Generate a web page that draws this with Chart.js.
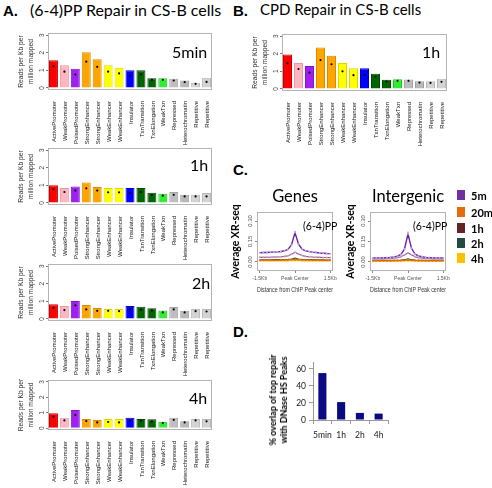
<!DOCTYPE html>
<html>
<head>
<meta charset="utf-8">
<script src="https://cdn.jsdelivr.net/npm/chart.js@4.4.1/dist/chart.umd.min.js"></script>
<style>
  html, body { margin: 0; padding: 0; background: #fff; }
  #page { position: relative; width: 492px; height: 488px; overflow: hidden; font-family: Lato, sans-serif; color: #000; }
  #page canvas { position: absolute; }
  .t { position: absolute; white-space: nowrap; line-height: 1; }
  .panel { font: bold 15px "Liberation Sans", Arial, sans-serif; }
  .head { font: 16px Lato, sans-serif; }
  .tag { font: 16px Lato, sans-serif; }
  .sq { position: absolute; width: 8px; height: 10px; }
  .leg { font: bold 11px Lato, sans-serif; }
</style>
</head>
<body>
<div id="page">
  <div class="t panel" style="left:3px;top:2px">A.</div>
  <div class="t head" style="left:30px;top:0px">(6-4)PP Repair in CS-B cells</div>
  <div class="t panel" style="left:233px;top:2px">B.</div>
  <div class="t head" style="left:260px;top:0px;font-size:15px">CPD Repair in CS-B cells</div>
  <div class="t panel" style="left:233px;top:161px">C.</div>
  <div class="t panel" style="left:233px;top:323px">D.</div>

  <canvas id="pp5min" width="222" height="120" style="left:0;top:28px"></canvas>
  <canvas id="pp1h" width="222" height="120" style="left:0;top:143px"></canvas>
  <canvas id="pp2h" width="222" height="120" style="left:0;top:259px"></canvas>
  <canvas id="pp4h" width="222" height="113" style="left:0;top:375px"></canvas>
  <canvas id="cpd1h" width="222" height="120" style="left:234px;top:29px"></canvas>
  <canvas id="genes" width="112" height="106" style="left:226px;top:194px"></canvas>
  <canvas id="intergenic" width="112" height="106" style="left:340px;top:194px"></canvas>
  <canvas id="dnase" width="160" height="100" style="left:240px;top:350px"></canvas>

  <div class="t tag" style="left:172px;top:42px">5min</div>
  <div class="t tag" style="left:190px;top:155px">1h</div>
  <div class="t tag" style="left:192px;top:273px">2h</div>
  <div class="t tag" style="left:189px;top:388px">4h</div>
  <div class="t tag" style="left:422px;top:42px">1h</div>

  <div class="t" style="left:255px;top:186px;width:80px;text-align:center;font:16.5px Lato">Genes</div>
  <div class="t" style="left:368px;top:186px;width:80px;text-align:center;font:16.5px Lato">Intergenic</div>
  <div class="t" style="left:303px;top:220px;font:10.5px Lato">(6-4)PP</div>
  <div class="t" style="left:413px;top:220px;font:10.5px Lato">(6-4)PP</div>

  <div id="legend"></div>

  <div class="t" style="left:278px;top:400px;transform:translate(-50%,-50%) rotate(-90deg);text-align:center;font:bold 9px Lato;line-height:11px">% overlap of top repair<br>with DNase HS Peaks</div>
</div>

<script>
// ======= Panel A / B: chromatin states =======
const stateLabels = ["ActivePromoter", "WeakPromoter", "PoisedPromoter", "StrongEnhancer", "StrongEnhancer",
                     "WeakEnhancer", "WeakEnhancer", "Insulator", "TxnTransition", "TxnElongation",
                     "WeakTxn", "Repressed", "Heterochromatin", "Repetitive", "Repetitive"];
const stateColors  = ["#ff0000", "#ffb6c1", "#a020f0", "#ffa500", "#ffa500", "#ffff00", "#ffff00", "#0000ff",
                      "#006400", "#006400", "#2ef02e", "#bebebe", "#b8b8b8", "#d3d3d3", "#d3d3d3"];
const stateBorders = ["#cc0000", "#e59aa6", "#8418c8", "#d98c00", "#d98c00", "#d8d800", "#d8d800", "#0000c0",
                      "#004a00", "#004a00", "#22c422", "#a4a4a4", "#9e9e9e", "#b8b8b8", "#b8b8b8"];
const stateTicks = [0, 1, 2, 3];
const stateTickLabels = ["0", "1", "2", "3"];
const stateYTitle = ["Reads per Kb per", "million mapped"];

// bar = mean, dot = inner marker
const pp5minBars = [1.57, 1.28, 1.09, 2.03, 1.63, 1.28, 1.15, 1.00, 1.00, 0.55, 0.55, 0.52, 0.42, 0.29, 0.57];
const pp5minDots = [1.24, 0.92, 0.76, 1.49, 1.20, 0.92, 0.82, 0.67, 0.76, 0.46, 0.46, 0.42, 0.33, 0.23, 0.34];
const pp1hBars   = [1.00, 0.85, 0.93, 1.16, 0.91, 0.85, 0.85, 0.85, 0.85, 0.58, 0.52, 0.62, 0.46, 0.46, 0.56];
const pp1hDots   = [0.77, 0.62, 0.70, 0.83, 0.70, 0.60, 0.60, 0.56, 0.62, 0.46, 0.41, 0.46, 0.37, 0.37, 0.37];
const pp2hBars   = [0.83, 0.73, 1.02, 0.79, 0.62, 0.56, 0.56, 0.73, 0.69, 0.60, 0.48, 0.67, 0.46, 0.56, 0.56];
const pp2hDots   = [0.63, 0.50, 0.77, 0.54, 0.46, 0.46, 0.44, 0.54, 0.52, 0.48, 0.37, 0.54, 0.37, 0.44, 0.42];
const pp4hBars   = [0.96, 0.67, 1.17, 0.60, 0.52, 0.60, 0.60, 0.67, 0.60, 0.58, 0.42, 0.67, 0.44, 0.60, 0.60];
const pp4hDots   = [0.75, 0.50, 0.85, 0.46, 0.37, 0.40, 0.37, 0.48, 0.48, 0.44, 0.33, 0.54, 0.37, 0.50, 0.44];
const cpd1hBars  = [1.95, 1.47, 1.30, 2.35, 1.89, 1.47, 1.17, 1.17, 0.86, 0.52, 0.55, 0.54, 0.44, 0.44, 0.57];
const cpd1hDots  = [1.45, 1.13, 0.92, 1.64, 1.40, 1.00, 0.78, 0.80, 0.69, 0.42, 0.46, 0.46, 0.36, 0.34, 0.40];

// ======= Panel C: XR-seq profile around ChIP peaks =======
const profileKb = [-1.5, -1.35, -1.2, -1.05, -0.9, -0.75, -0.6, -0.45, -0.3, -0.15, 0,
                   0.15, 0.3, 0.45, 0.6, 0.75, 0.9, 1.05, 1.2, 1.35, 1.5];
const profileTickKb = [-1.5, 0, 1.5];
const profileTickLabels = ["-1.5Kb", "Peak Center", "1.5Kb"];
const profileYTicks = [0, 0.15, 0.30];
const profileYTickLabels = ["0.00", "0.15", "0.30"];

const genes5m  = [0.068, 0.069, 0.070, 0.071, 0.072, 0.074, 0.077, 0.082, 0.092, 0.125, 0.215,
                  0.130, 0.094, 0.082, 0.076, 0.072, 0.069, 0.066, 0.064, 0.062, 0.061];
const genes20m = [0.013, 0.013, 0.013, 0.013, 0.013, 0.013, 0.014, 0.014, 0.015, 0.016, 0.019,
                  0.016, 0.015, 0.014, 0.014, 0.013, 0.013, 0.013, 0.012, 0.012, 0.012];
const genes1h  = [0.034, 0.034, 0.035, 0.035, 0.036, 0.037, 0.038, 0.041, 0.046, 0.056, 0.071,
                  0.058, 0.047, 0.041, 0.038, 0.036, 0.035, 0.034, 0.033, 0.033, 0.032];
const genes2h  = [0.016, 0.016, 0.016, 0.016, 0.017, 0.017, 0.017, 0.018, 0.019, 0.022, 0.028,
                  0.022, 0.019, 0.018, 0.017, 0.017, 0.016, 0.016, 0.016, 0.015, 0.015];
const genes4h  = [0.007, 0.007, 0.007, 0.007, 0.007, 0.007, 0.008, 0.008, 0.008, 0.009, 0.011,
                  0.009, 0.008, 0.008, 0.008, 0.007, 0.007, 0.007, 0.007, 0.007, 0.007];

const inter5m  = [0.030, 0.030, 0.030, 0.031, 0.032, 0.034, 0.037, 0.043, 0.055, 0.095, 0.205,
                  0.100, 0.058, 0.044, 0.038, 0.034, 0.032, 0.031, 0.030, 0.030, 0.029];
const inter20m = [0.009, 0.009, 0.009, 0.009, 0.009, 0.009, 0.010, 0.010, 0.011, 0.012, 0.015,
                  0.012, 0.011, 0.010, 0.010, 0.009, 0.009, 0.009, 0.009, 0.009, 0.009];
const inter1h  = [0.022, 0.022, 0.022, 0.023, 0.024, 0.025, 0.027, 0.031, 0.038, 0.052, 0.066,
                  0.053, 0.039, 0.031, 0.027, 0.025, 0.024, 0.023, 0.022, 0.022, 0.022];
const inter2h  = [0.011, 0.011, 0.011, 0.011, 0.011, 0.012, 0.012, 0.013, 0.014, 0.017, 0.023,
                  0.017, 0.014, 0.013, 0.012, 0.012, 0.011, 0.011, 0.011, 0.011, 0.011];
const inter4h  = [0.005, 0.005, 0.005, 0.005, 0.005, 0.005, 0.005, 0.006, 0.006, 0.007, 0.008,
                  0.007, 0.006, 0.006, 0.005, 0.005, 0.005, 0.005, 0.005, 0.005, 0.005];

const legendNames  = ["5m", "20m", "1h", "2h", "4h"];
const legendColors = ["#7030a0", "#e46c0a", "#632523", "#254a44", "#ffc000"];
const lineColors   = ["#6a22a8", "#e46c0a", "#8a4a86", "#2f5f3f", "#ffc000"];
const pointColors  = ["#c6a2e4", "#e46c0a", "#c8a0c8", "#2f5f3f", "#ffc000"];

// ======= Panel D: overlap with DNase HS peaks =======
const dnaseLabels  = ["5min", "1h", "2h", "4h"];
const dnaseOverlap = [55, 21, 8.3, 7.5];
const dnaseTicks   = [0, 20, 40, 60];
const dnaseTickLabels = ["0", "20", "40", "60"];

const RFONT = "'Liberation Sans', Arial, sans-serif";

// ---------- small plugins: R-style box + rotated y tick labels ----------
const rBox = {
    id: "rBox",
    afterDatasetsDraw(chart, args, o) {
        if (!o || !o.color) return;
        const a = chart.chartArea, ctx = chart.ctx;
        ctx.save();
        ctx.strokeStyle = o.color;
        ctx.lineWidth = 1;
        ctx.strokeRect(Math.round(a.left) + 0.5, Math.round(a.top) + 0.5,
                       Math.round(a.right - a.left) - 1, Math.round(a.bottom - a.top) - 1);
        ctx.restore();
    }
};

const rotY = {
    id: "rotY",
    afterDraw(chart, args, o) {
        if (!o || !o.font) return;
        const s = chart.scales.y, ctx = chart.ctx;
        ctx.save();
        ctx.font = o.font;
        ctx.fillStyle = o.color || "#333";
        ctx.textAlign = "center";
        ctx.textBaseline = "middle";
        s.ticks.forEach((t, i) => {
            ctx.save();
            ctx.translate(chart.chartArea.left - o.gap, s.getPixelForValue(t.value));
            ctx.rotate(-Math.PI / 2);
            ctx.fillText(o.labels[i], 0, 0);
            ctx.restore();
        });
        ctx.restore();
    }
};

Chart.register(rBox, rotY);

function stateChart(id, bars, dots, rightPad) {
    return new Chart(document.getElementById(id), {
        type: "bar",
        data: {
            labels: stateLabels,
            datasets: [
                { type: "line", data: dots, showLine: false, pointRadius: 1.1,
                  pointBackgroundColor: "#000", pointBorderWidth: 0, order: 1 },
                { data: bars, backgroundColor: stateColors, borderColor: stateBorders, borderWidth: 1,
                  categoryPercentage: 1, barPercentage: 0.82, order: 2 }
            ]
        },
        options: {
            responsive: false,
            animation: false,
            layout: { autoPadding: false, padding: { top: 5, right: rightPad, left: 0, bottom: 0 } },
            plugins: {
                legend: { display: false },
                tooltip: { enabled: false },
                rBox: { color: "#b4b4b4" },
                rotY: { font: "6.5px " + RFONT, color: "#444", gap: 6, labels: stateTickLabels }
            },
            scales: {
                x: {
                    grid: { display: false },
                    border: { display: false },
                    ticks: { minRotation: 90, maxRotation: 90, autoSkip: false, padding: 3, labelOffset: 1,
                             font: { family: RFONT, size: 6, lineHeight: 1.2 }, color: "#111" },
                    afterFit: s => { s.height = 58; s.paddingLeft = 0; s.paddingRight = 0; }
                },
                y: {
                    min: -0.12, max: 3.12,
                    afterBuildTicks: s => { s.ticks = stateTicks.map(v => ({ value: v })); },
                    ticks: { display: false, callback: (v, i) => stateTickLabels[i] },
                    grid: { drawOnChartArea: false, tickLength: 2, color: "#777" },
                    border: { display: false },
                    title: { display: true, text: stateYTitle, color: "#333",
                             font: { family: RFONT, size: 6.7, lineHeight: 1.6 },
                             padding: { top: 15.5, bottom: 0 } },
                    afterFit: s => { s.width = 48; }
                }
            }
        }
    });
}

function profileChart(id, series, yTitlePad, yWidth, rightPad) {
    return new Chart(document.getElementById(id), {
        type: "scatter",
        data: {
            datasets: series.map((vals, k) => ({
                data: profileKb.map((x, i) => ({ x: x, y: vals[i] })),
                showLine: true,
                borderColor: lineColors[k],
                borderWidth: k === 0 ? 1.4 : 1.1,
                pointRadius: k < 3 ? 1 : 0,
                pointBackgroundColor: pointColors[k],
                pointBorderWidth: 0
            }))
        },
        options: {
            responsive: false,
            animation: false,
            layout: { autoPadding: false, padding: { top: 18, right: rightPad, left: 0, bottom: 0 } },
            plugins: {
                legend: { display: false },
                tooltip: { enabled: false },
                rBox: { color: "#b4b4b4" },
                rotY: { font: "6px " + RFONT, color: "#555", gap: 7, labels: profileYTickLabels }
            },
            scales: {
                x: {
                    type: "linear", min: -1.62, max: 1.62,
                    afterBuildTicks: s => { s.ticks = profileTickKb.map(v => ({ value: v })); },
                    ticks: { callback: (v, i) => profileTickLabels[i], maxRotation: 0, padding: 3,
                             font: { family: RFONT, size: 5 }, color: "#555" },
                    grid: { drawOnChartArea: false, tickLength: 2, color: "#888" },
                    border: { display: false },
                    title: { display: true, text: "Distance from ChIP Peak center", color: "#333",
                             font: { family: RFONT, size: 6.5 }, padding: { top: 0, bottom: 6 } },
                    afterFit: s => { s.height = 29; s.paddingLeft = 0; s.paddingRight = 0; }
                },
                y: {
                    min: -0.066, max: 0.366,
                    afterBuildTicks: s => { s.ticks = profileYTicks.map(v => ({ value: v })); },
                    ticks: { display: false, callback: (v, i) => profileYTickLabels[i] },
                    grid: { drawOnChartArea: false, tickLength: 2, color: "#888" },
                    border: { display: false },
                    title: { display: true, text: "Average XR-seq", color: "#000",
                             font: { family: "Lato", size: 10.5, weight: "bold" },
                             padding: { top: yTitlePad, bottom: 0 } },
                    afterFit: s => { s.width = yWidth; }
                }
            }
        }
    });
}

document.addEventListener("DOMContentLoaded", () => {
    // ---- A: (6-4)PP ----
    stateChart("pp5min", pp5minBars, pp5minDots, 10);
    stateChart("pp1h", pp1hBars, pp1hDots, 10);
    stateChart("pp2h", pp2hBars, pp2hDots, 10);
    stateChart("pp4h", pp4hBars, pp4hDots, 10);

    // ---- B: CPD ----
    stateChart("cpd1h", cpd1hBars, cpd1hDots, 9);

    // ---- C: profiles ----
    profileChart("genes", [genes5m, genes20m, genes1h, genes2h, genes4h], 3.5, 31, 5);
    profileChart("intergenic", [inter5m, inter20m, inter1h, inter2h, inter4h], 4.5, 30, 6);

    const legend = document.getElementById("legend");
    const legendY = [195, 212, 228, 243, 258];
    legendNames.forEach((name, i) => {
        const sq = document.createElement("div");
        sq.className = "sq";
        sq.style.left = "457px";
        sq.style.top = (legendY[i] - 5) + "px";
        sq.style.background = legendColors[i];
        legend.appendChild(sq);
        const tx = document.createElement("div");
        tx.className = "t leg";
        tx.style.left = "471px";
        tx.style.top = (legendY[i] - 6) + "px";
        tx.textContent = name;
        legend.appendChild(tx);
    });

    // ---- D: DNase overlap ----
    new Chart(document.getElementById("dnase"), {
        type: "bar",
        data: {
            labels: dnaseLabels,
            datasets: [{ data: dnaseOverlap, backgroundColor: "#0a0a82",
                         categoryPercentage: 1, barPercentage: 0.43 }]
        },
        options: {
            responsive: false,
            animation: false,
            layout: { autoPadding: false, padding: { top: 12, right: 12, left: 0, bottom: 0 } },
            plugins: { legend: { display: false }, tooltip: { enabled: false } },
            scales: {
                x: {
                    grid: { drawOnChartArea: false, tickLength: 4, color: "#999", offset: true },
                    border: { color: "#999" },
                    ticks: { minRotation: 0, maxRotation: 0, autoSkip: false,
                             font: { family: "Lato", size: 8.5 }, color: "#222", padding: 6 },
                    afterFit: s => { s.height = 30; s.paddingLeft = 0; s.paddingRight = 0; }
                },
                y: {
                    min: 0, max: 68,
                    afterBuildTicks: s => { s.ticks = dnaseTicks.map(v => ({ value: v })); },
                    grid: { drawOnChartArea: false, tickLength: 4, color: "#999" },
                    border: { color: "#999" },
                    ticks: { callback: (v, i) => dnaseTickLabels[i],
                             font: { family: "Lato", size: 8.5 }, color: "#222", padding: 3 },
                    afterFit: s => { s.width = 73; }
                }
            }
        }
    });
});
</script>
</body>
</html>
